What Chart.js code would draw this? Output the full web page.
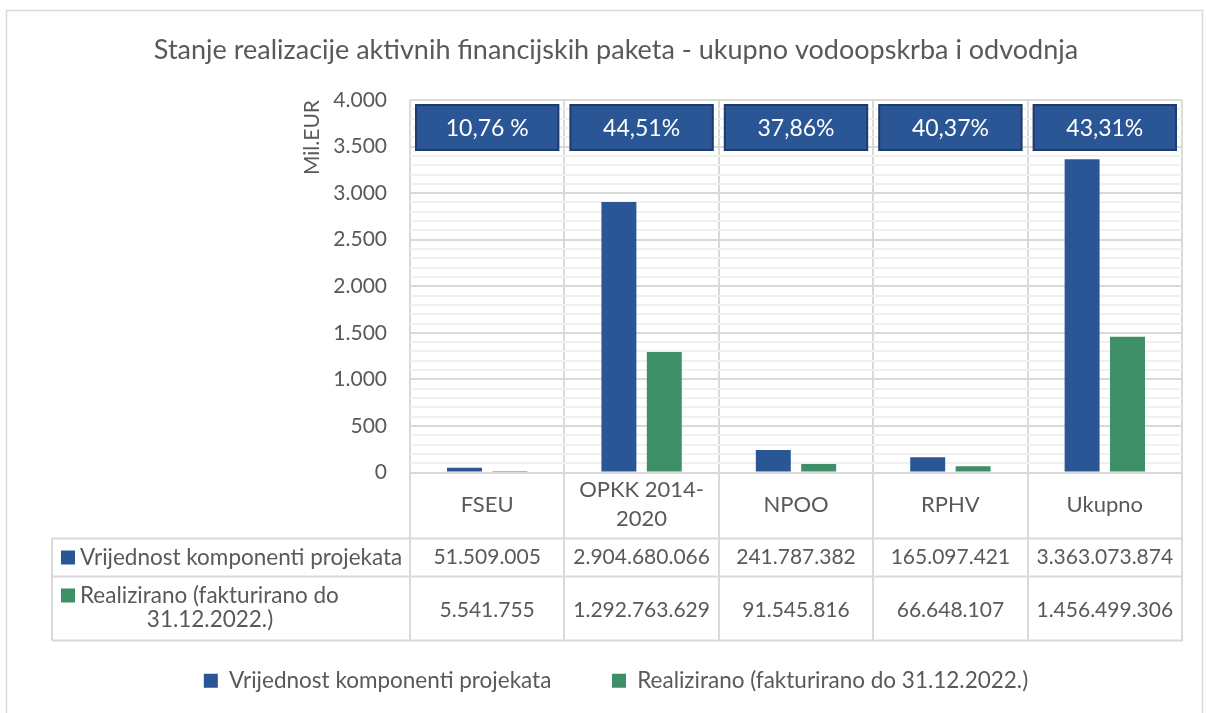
<!DOCTYPE html>
<html>
<head>
<meta charset="utf-8">
<script src="https://cdn.jsdelivr.net/npm/chart.js@4.4.1/dist/chart.umd.min.js"></script>
<style>
  html, body { margin: 0; padding: 0; background: #fff; }
</style>
</head>
<body>
<canvas id="chart" width="1206" height="713"></canvas>
<script>
// podaci (EUR) - stupci na grafu su u Mil.EUR
const categories = ['FSEU', ['OPKK 2014-', '2020'], 'NPOO', 'RPHV', 'Ukupno'];
const seriesNames = ['Vrijednost komponenti projekata', 'Realizirano (fakturirano do 31.12.2022.)'];
const vrijednostEur = [51509005, 2904680066, 241787382, 165097421, 3363073874];
const realiziranoEur = [5541755, 1292763629, 91545816, 66648107, 1456499306];
const postoci = ['10,76 %', '44,51%', '37,86%', '40,37%', '43,31%'];
const yMajorTicks = [0, 500, 1000, 1500, 2000, 2500, 3000, 3500, 4000];
const tableLabels = [['Vrijednost komponenti projekata'], ['Realizirano (fakturirano do', '31.12.2022.)']];

const colors = ['#2A5696', '#3E8E68'];
const textColor = '#595959';
const gridColor = '#d9d9d9';
const FONT = 'Lato';

const fmt = v => String(v).replace(/\B(?=(\d{3})+(?!\d))/g, '.');

// okvir, postotci i tablica podataka ispod grafa (kao u Excelu)
const excelExtras = {
    id: 'excelExtras',
    beforeDraw(chart) {
        const ctx = chart.ctx;
        ctx.save();
        ctx.fillStyle = '#fff';
        ctx.fillRect(0, 0, chart.width, chart.height);
        ctx.strokeStyle = gridColor;
        ctx.lineWidth = 1.5;
        ctx.strokeRect(6.5, 10.5, 1196, 720);
        ctx.restore();
    },
    afterDraw(chart) {
        const {ctx, chartArea: ca, scales: {x}} = chart;
        const n = categories.length;
        const colW = (ca.right - ca.left) / n;
        const tLeft = 52;
        const tTop = ca.bottom + 66, tMid = tTop + 38, tBot = tMid + 64;

        ctx.save();
        // linije tablice
        ctx.strokeStyle = gridColor;
        ctx.lineWidth = 2;
        ctx.beginPath();
        for (let i = 0; i <= n; i++) {
            const xx = Math.round(ca.left + i * colW);
            ctx.moveTo(xx, ca.bottom);
            ctx.lineTo(xx, tBot);
        }
        [tTop, tMid, tBot].forEach(y => {
            ctx.moveTo(tLeft, y);
            ctx.lineTo(ca.right + 1, y);
        });
        ctx.moveTo(tLeft, tTop);
        ctx.lineTo(tLeft, tBot);
        ctx.stroke();

        // vrijednosti
        ctx.fillStyle = textColor;
        ctx.font = '21px ' + FONT;
        ctx.textAlign = 'center';
        ctx.textBaseline = 'middle';
        const rowY = [tTop + 19, tMid + 34];
        [vrijednostEur, realiziranoEur].forEach((vals, r) => {
            vals.forEach((v, i) => ctx.fillText(fmt(v), x.getPixelForValue(i), rowY[r]));
        });

        // nazivi redaka
        ctx.font = '22.5px ' + FONT;
        ctx.textAlign = 'left';
        ctx.fillStyle = colors[0];
        ctx.fillRect(61, tTop + 12, 14, 14);
        ctx.fillStyle = textColor;
        ctx.fillText(tableLabels[0][0], 80, tTop + 19);
        ctx.fillStyle = colors[1];
        ctx.fillRect(61, tMid + 12, 14, 14);
        ctx.fillStyle = textColor;
        ctx.fillText(tableLabels[1][0], 80, tMid + 19);
        ctx.textAlign = 'center';
        ctx.fillText(tableLabels[1][1], 210, tMid + 43);

        // postotci realizacije
        postoci.forEach((p, i) => {
            const cx = x.getPixelForValue(i);
            const w = colW - 12, h = 45;
            const left = cx - w / 2, top = ca.top + 5;
            ctx.fillStyle = colors[0];
            ctx.fillRect(left, top, w, h);
            ctx.strokeStyle = '#1F3B68';
            ctx.lineWidth = 2;
            ctx.strokeRect(left, top, w, h);
            ctx.fillStyle = '#fff';
            ctx.font = '23px ' + FONT;
            ctx.fillText(p, cx, top + h / 2 + 1);
        });
        ctx.restore();
    }
};

new Chart(document.getElementById('chart'), {
    type: 'bar',
    data: {
        labels: categories,
        datasets: [{
            label: seriesNames[0],
            data: vrijednostEur.map(v => v / 1e6),
            backgroundColor: colors[0],
            barPercentage: 0.77,
            categoryPercentage: 0.588
        }, {
            label: seriesNames[1],
            data: realiziranoEur.map(v => v / 1e6),
            backgroundColor: colors[1],
            barPercentage: 0.77,
            categoryPercentage: 0.588
        }]
    },
    options: {
        responsive: false,
        animation: false,
        layout: { padding: { left: 50, right: 24, top: 0, bottom: 11 } },
        plugins: {
            title: {
                display: true,
                text: 'Stanje realizacije aktivnih financijskih paketa - ukupno vodoopskrba i odvodnja',
                color: textColor,
                font: { family: FONT, size: 27, weight: 'normal' },
                padding: { top: 34, bottom: 33.6 }
            },
            legend: {
                position: 'bottom',
                labels: {
                    color: textColor,
                    font: { family: FONT, size: 22.5 },
                    boxWidth: 14,
                    boxHeight: 14,
                    padding: 10,
                    generateLabels(chart) {
                        const items = Chart.defaults.plugins.legend.labels.generateLabels(chart);
                        items[0].text += '\u2003\u2003\u2002\u2009\u2009';
                        return items;
                    }
                }
            },
            tooltip: { enabled: false }
        },
        scales: {
            x: {
                afterFit(s) { s.height = 187; },
                ticks: {
                    color: textColor,
                    font: { family: FONT, size: 22, lineHeight: 1.32 },
                    padding: 17.5,
                    maxRotation: 0,
                    autoSkip: false,
                    crossAlign: 'center'
                },
                grid: { color: gridColor, lineWidth: 2, drawTicks: false, offset: true },
                border: { display: false }
            },
            y: {
                min: 0,
                max: 4000,
                afterFit(s) { s.width = 360; },
                afterBuildTicks(s) {
                    const t = [];
                    for (let v = 0; v <= 4000; v += 100) t.push({ value: v });
                    s.ticks = t;
                },
                ticks: {
                    color: textColor,
                    font: { family: FONT, size: 21 },
                    padding: 23,
                    autoSkip: false,
                    callback: v => yMajorTicks.includes(v) ? fmt(v) : ''
                },
                grid: {
                    color: c => (c.tick && c.tick.value % 500 === 0) ? gridColor : '#f0f0f0',
                    lineWidth: 2,
                    drawTicks: false
                },
                border: { display: false },
                title: {
                    display: true,
                    text: 'Mil.EUR',
                    align: 'end',
                    color: textColor,
                    font: { family: FONT, size: 21 },
                    padding: { top: 250, bottom: 0 }
                }
            }
        }
    },
    plugins: [excelExtras]
});
</script>
</body>
</html>
